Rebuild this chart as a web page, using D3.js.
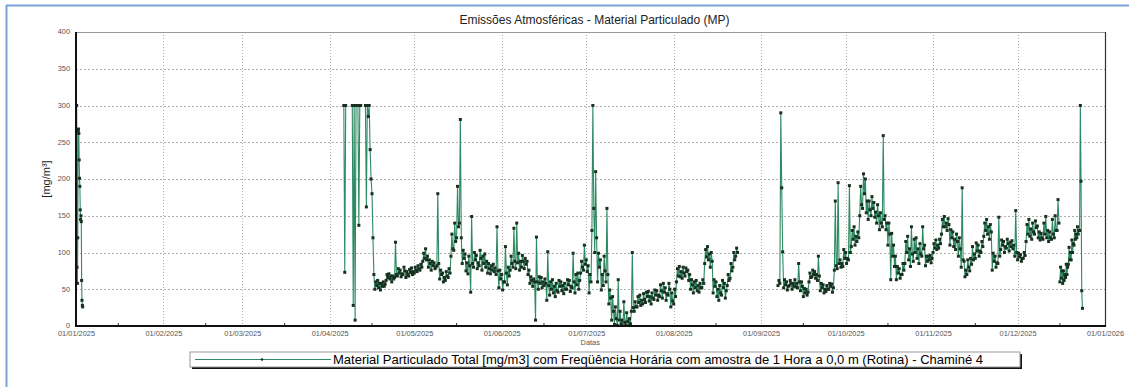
<!DOCTYPE html>
<html><head><meta charset="utf-8">
<script src="https://cdn.jsdelivr.net/npm/d3@7"></script>
<style>body{margin:0;background:#fff;overflow:hidden}svg{display:block}</style>
</head><body>
<svg id="c" width="1129" height="387"></svg>
<script>
// ---------- DATA ----------
const chartTitle = "Emissões Atmosféricas - Material Particulado (MP)";
const yLabel = "[mg/m³]";
const xLabel = "Datas";
const legendLabel = "Material Particulado Total [mg/m3] com Freqüência Horária com amostra de 1 Hora a 0,0 m (Rotina) - Chaminé 4";
const xTickLabels = ["01/01/2025","01/02/2025","01/03/2025","01/04/2025","01/05/2025","01/06/2025","01/07/2025","01/08/2025","01/09/2025","01/10/2025","01/11/2025","01/12/2025","01/01/2026"];
const yTicks = [0,50,100,150,200,250,300,350,400];

// segment A: early January (3-hour step)
const segAStart = "2025-01-01T06:00", segAStep = 3;
const segAValues = [300,80,58,120,265,268,262,226,201,190,158,145,150,142,62,35,28,26];

// segment B: April - August (8-hour step, null = no data)
const segBStart = "2025-04-06T00:00", segBStep = 8;
const segBValues = [
300,73,300, null,null,null, null,null,null, 300,28,300, 8,300,300, 300,137,300, 300,null,null, null,null,300, 162,300,285, 300,240,200, 180,120,70,
50,60,55, 62,52,58, 49,58,54, 60,54,57, 62,70,66, 71,64,68, 60,68,64, 66,114,70, 68,78,72, 76,67,71, 70,80,75, 66,74,70,
68,77,73, 79,70,74, 72,80,76, 74,82,78, 76,84,80, 88,99,92, 105,90,95, 80,90,85, 76,88,82, 86,78,80, 82,180,85, 64,76,70,
72,60,66, 62,74,68, 66,78,72, 95,125,105, 103,140,115, 120,190,135, 140,281,120, 85,103,92, 98,75,86, 71,95,82, 46,149,85,
80,100,90, 96,78,86, 82,103,92, 76,95,85, 98,80,88, 72,85,78, 71,82,76, 84,74,79, 70,135,75, 52,76,64, 70,49,60, 60,108,72,
56,80,68, 76,95,85, 80,133,88, 78,140,86, 99,76,88, 80,96,88, 78,92,84, 88,70,76, 58,67,62, 54,64,60, 8,121,60, 50,67,58,
66,52,60, 55,64,58, 35,101,55, 42,60,50, 63,45,54, 40,58,48, 46,62,54, 60,48,55, 44,58,50, 50,63,56, 62,47,54, 52,99,60,
45,70,56, 72,50,62, 72,88,80, 76,110,84, 90,74,82, 45,70,60, 130,300,160, 100,210,120, 60,99,80, 90,49,70, 55,95,75, 60,160,70,
30,49,38, 8,40,20, 2,26,10, 1,63,8, 20,3,8, 0,33,5, 1,18,6, 0,10,3, 20,100,25, 20,33,26, 26,40,32, 42,28,35, 30,44,36,
32,46,40, 47,34,40, 30,45,38, 36,49,42, 48,35,42, 40,56,48, 38,58,46, 52,35,44, 42,58,50, 26,45,34, 30,50,40, 60,78,68,
81,67,74, 65,80,72, 68,79,74, 76,62,70, 50,63,56, 45,60,52, 62,48,55, 46,58,52, 52,63,58, 85,104,94, 108,90,98, 80,100,88,
45,63,54, 60,40,50, 35,55,45, 42,62,52, 58,38,48, 55,70,62, 65,85,75, 80,100,90, 95,106,100];

// segment C: September - mid December (8-hour step)
const segCStart = "2025-09-07T00:00", segCStep = 8;
const segCValues = [
55,62,58, 290,188,101, 52,63,56, 60,49,54, 55,62,58, 50,58,54, 63,53,58, 52,85,60, 48,60,54, 40,51,45, 50,42,46, 60,72,66,
67,76,70, 74,65,70, 62,95,68, 48,58,52, 56,45,50, 47,55,50, 50,58,54, 57,46,52, 76,170,82, 78,195,85, 90,80,85, 81,104,92,
100,85,92, 90,191,100, 108,130,118, 135,110,122, 115,128,120, 150,190,165, 160,207,180, 200,154,170, 145,170,158, 150,176,160,
168,148,155, 140,165,150, 131,154,140, 135,259,145, 150,131,140, 110,140,125, 63,126,95, 110,81,95, 63,81,72, 78,65,70,
70,85,76, 85,115,100, 122,90,105, 81,135,98, 88,118,100, 120,92,105, 85,112,98, 95,135,105, 110,82,95, 88,95,90, 96,86,92,
100,112,106, 117,104,110, 106,118,112, 125,145,135, 149,135,140, 130,146,138, 110,131,120, 128,108,118, 104,125,115, 95,120,105,
80,188,90, 88,67,76, 70,90,80, 75,92,84, 108,90,98, 92,113,102, 110,95,102, 100,115,108, 122,140,130, 145,125,135, 118,138,128,
76,99,88, 95,80,86, 85,148,95, 104,117,110, 115,100,108, 106,118,112, 102,114,108, 116,105,110, 95,157,100, 90,99,94, 97,88,92,
92,100,96, 115,138,125, 145,122,132, 118,140,128, 125,143,134, 136,120,128, 117,126,120, 118,140,125, 149,120,130, 115,128,120,
118,145,125, 120,150,130, 130,172,140];

// segment D: late December (6-hour step)
const segDStart = "2025-12-16T00:00", segDStep = 6;
const segDValues = [60,80,65,75, 58,75,62,70, 66,84,70,80, 84,107,90,100, 90,117,100,112, 110,130,118,125, 120,135,125,130, 130,300,197,48,24];

// ---------- DRAW ----------
const svg = d3.select("#c");
const W = 1129, H = 387;
const L = 76, R = 1105, T = 32, B = 326;
const parse = d3.timeParse("%Y-%m-%dT%H:%M");
const x = d3.scaleTime().domain([new Date(2025,0,1), new Date(2026,0,1)]).range([L, R]);
const y = d3.scaleLinear().domain([0,400]).range([B, T]);
const font = "Liberation Sans, Arial, sans-serif";

function build(start, step, vals){
  const t0 = parse(start);
  return vals.map((v,i)=>({t: d3.timeHour.offset(t0, i*step), v}));
}
const segments = [build(segAStart,segAStep,segAValues), build(segBStart,segBStep,segBValues),
                  build(segCStart,segCStep,segCValues), build(segDStart,segDStep,segDValues)];

// outer blue frame (top & left)
svg.append("line").attr("x1",6).attr("x2",W).attr("y1",5.5).attr("y2",5.5).attr("stroke","#7da2d6").attr("stroke-width",2);
svg.append("line").attr("x1",6.5).attr("x2",6.5).attr("y1",5).attr("y2",H).attr("stroke","#7da2d6").attr("stroke-width",2);

// title
svg.append("text").attr("x",(L+R)/2+4).attr("y",24).attr("text-anchor","middle")
  .attr("font-family",font).attr("font-size",12).attr("fill","#222").text(chartTitle);

// grid
const months = d3.timeMonth.range(new Date(2025,0,1), new Date(2026,0,2));
svg.append("g").selectAll("line").data(months.slice(1,-1)).join("line")
  .attr("x1",d=>Math.round(x(d))+0.5).attr("x2",d=>Math.round(x(d))+0.5).attr("y1",T).attr("y2",B)
  .attr("stroke","#b0b0b0").attr("stroke-dasharray","1,2");
svg.append("g").selectAll("line").data(yTicks.slice(1,-1)).join("line")
  .attr("x1",L).attr("x2",R).attr("y1",d=>Math.round(y(d))+0.5).attr("y2",d=>Math.round(y(d))+0.5)
  .attr("stroke","#b0b0b0").attr("stroke-dasharray","2,2");

// frame
svg.append("line").attr("x1",L).attr("x2",R).attr("y1",T+0.5).attr("y2",T+0.5).attr("stroke","#999");
svg.append("line").attr("x1",R+0.5).attr("x2",R+0.5).attr("y1",T).attr("y2",B).attr("stroke","#333").attr("stroke-width",1.2);

// axes
const xAxis = d3.axisBottom(x).tickValues(months).tickSize(0).tickPadding(5)
  .tickFormat((d,i)=>xTickLabels[i]);
const gx = svg.append("g").attr("transform",`translate(0,${B})`).call(xAxis);
gx.select(".domain").remove();
gx.selectAll("text").attr("font-family",font).attr("font-size",7.4).attr("fill","#555");
const yAxis = d3.axisLeft(y).tickValues(yTicks).tickSize(0).tickPadding(6);
const gy = svg.append("g").attr("transform",`translate(${L},0)`).call(yAxis);
gy.select(".domain").remove();
gy.selectAll("text").attr("font-family",font).attr("font-size",7.4).attr("fill","#555").attr("dy","0.25em");

// minor ticks (mid month)
const mids = d3.timeDay.range(new Date(2025,0,1), new Date(2026,0,1)).filter(d=>d.getDate()===16);
svg.append("g").selectAll("line").data(mids).join("line")
  .attr("x1",d=>x(d)).attr("x2",d=>x(d)).attr("y1",B).attr("y2",B-3).attr("stroke","#333");

// series
svg.append("clipPath").attr("id","pc").append("rect").attr("x",L).attr("y",T-3).attr("width",R-L).attr("height",B-T+3);
const line = d3.line().defined(d=>d.v!=null).x(d=>x(d.t)).y(d=>y(d.v));
const gs = svg.append("g").attr("clip-path","url(#pc)");
segments.forEach(seg=>{
  gs.append("path").datum(seg).attr("d",line).attr("fill","none").attr("stroke","#2e8a63").attr("stroke-width",1.1);
});
segments.forEach(seg=>{
  gs.append("g").selectAll("rect").data(seg.filter(d=>d.v!=null)).join("rect")
    .attr("x",d=>x(d.t)-1.5).attr("y",d=>y(d.v)-1.5).attr("width",3).attr("height",3).attr("fill","#18301f");
});

// axis lines
svg.append("line").attr("x1",L).attr("x2",L).attr("y1",T).attr("y2",B+1).attr("stroke","#111").attr("stroke-width",2);
svg.append("line").attr("x1",L-1).attr("x2",R+1).attr("y1",B).attr("y2",B).attr("stroke","#111").attr("stroke-width",2);

// labels
svg.append("text").attr("transform",`translate(50,${(T+B)/2}) rotate(-90)`).attr("text-anchor","middle")
  .attr("font-family",font).attr("font-size",11).attr("fill","#222").text(yLabel);
svg.append("text").attr("x",x(new Date(2025,6,1))+4).attr("y",345).attr("text-anchor","middle")
  .attr("font-family",font).attr("font-size",7.4).attr("fill","#555").text(xLabel);

// legend
const lx = 190, ly = 352, lw = 830, lh = 15;
svg.append("rect").attr("x",lx+2).attr("y",ly+2).attr("width",lw).attr("height",lh).attr("fill","#111");
svg.append("rect").attr("x",lx).attr("y",ly).attr("width",lw).attr("height",lh).attr("fill","#fff").attr("stroke","#999");
svg.append("line").attr("x1",lx+5).attr("x2",lx+141).attr("y1",ly+7.5).attr("y2",ly+7.5).attr("stroke","#2e8a63");
svg.append("circle").attr("cx",lx+72).attr("cy",ly+7.5).attr("r",1.2).attr("fill","#13261a");
svg.append("text").attr("x",lx+143).attr("y",ly+12).attr("font-family",font).attr("font-size",13).attr("fill","#000").text(legendLabel);
</script>
</body></html>
